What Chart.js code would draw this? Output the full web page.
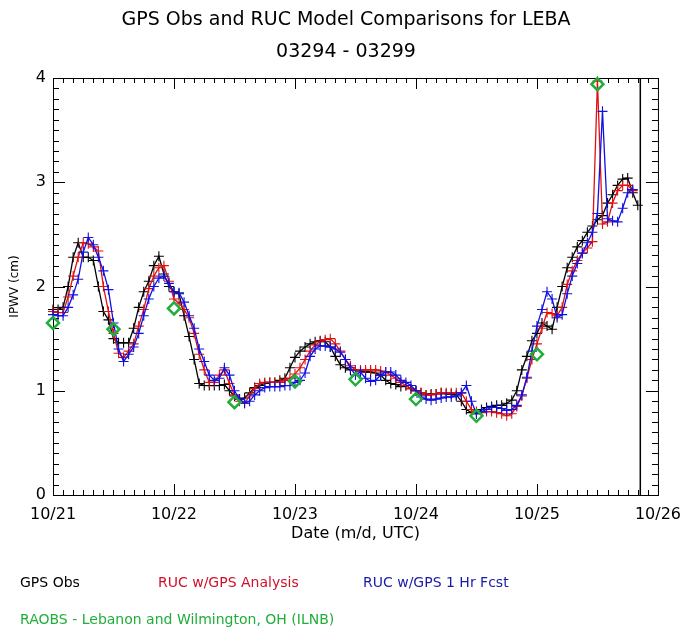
<!DOCTYPE html>
<html>
<head>
<meta charset="utf-8">
<script src="https://cdn.jsdelivr.net/npm/chart.js@4/dist/chart.umd.min.js"></script>
<style>
	html, body { margin: 0; padding: 0; background: #fff; }
	#pwv { display: block; }
</style>
</head>
<body>
<canvas id="pwv" width="691" height="628"></canvas>
<script>
// hours since 10/21 00 UTC, one value per hour
const gpsObs = [
	1.78,1.78,1.80,2.00,2.28,2.42,2.28,2.28,2.25,2.00,1.76,1.68,1.50,1.46,1.46,1.46,1.60,1.80,1.95,2.05,2.20,2.29,2.12,2.00,
	1.95,1.93,1.72,1.52,1.30,1.07,1.05,1.05,1.05,1.05,1.06,1.00,0.95,0.92,0.93,0.98,1.03,1.05,1.07,1.08,1.08,1.10,1.12,1.22,
	1.32,1.38,1.42,1.45,1.47,1.48,1.47,1.42,1.33,1.25,1.22,1.20,1.20,1.19,1.18,1.18,1.17,1.15,1.10,1.07,1.06,1.04,1.05,1.02,
	1.00,0.98,0.96,0.97,0.97,0.98,0.97,0.97,0.96,0.90,0.82,0.79,0.78,0.82,0.84,0.85,0.86,0.86,0.88,0.91,1.00,1.20,1.33,1.48,
	1.55,1.65,1.62,1.59,1.80,2.00,2.18,2.28,2.38,2.44,2.52,2.58,2.64,2.68,2.80,2.88,2.97,3.03,3.04,2.90,2.78
];
const rucAnalysis = [
	1.76,1.75,1.75,1.90,2.10,2.28,2.42,2.41,2.38,2.34,2.00,1.76,1.55,1.36,1.32,1.38,1.45,1.62,1.78,1.98,2.10,2.18,2.20,2.05,
	1.88,1.84,1.78,1.70,1.55,1.35,1.20,1.08,1.08,1.15,1.20,1.07,0.96,0.90,0.88,0.95,1.02,1.07,1.08,1.08,1.08,1.08,1.10,1.12,
	1.16,1.22,1.30,1.38,1.44,1.47,1.49,1.50,1.45,1.38,1.30,1.24,1.20,1.20,1.20,1.20,1.20,1.19,1.18,1.15,1.12,1.08,1.05,1.02,
	1.00,0.98,0.96,0.96,0.97,0.98,0.98,0.98,0.98,0.98,0.90,0.82,0.80,0.79,0.80,0.80,0.79,0.78,0.76,0.78,0.85,0.95,1.12,1.30,
	1.45,1.60,1.75,1.74,1.72,1.80,2.02,2.15,2.25,2.32,2.37,2.43,3.97,2.60,2.62,2.80,2.92,2.97,2.97,2.92
];
const rucFcst = [
	1.73,1.72,1.72,1.80,1.92,2.07,2.33,2.47,2.40,2.28,2.15,1.97,1.65,1.40,1.28,1.35,1.42,1.55,1.72,1.88,2.00,2.08,2.10,2.03,
	1.95,1.94,1.85,1.72,1.60,1.40,1.28,1.15,1.10,1.12,1.22,1.15,1.00,0.92,0.88,0.90,0.96,1.00,1.03,1.04,1.04,1.04,1.05,1.05,
	1.08,1.10,1.17,1.33,1.40,1.43,1.43,1.42,1.40,1.37,1.30,1.22,1.15,1.18,1.12,1.09,1.10,1.15,1.18,1.18,1.15,1.10,1.08,1.05,
	1.00,0.94,0.92,0.91,0.92,0.93,0.94,0.94,0.95,0.98,1.05,0.90,0.78,0.80,0.82,0.84,0.84,0.83,0.81,0.82,0.86,0.96,1.13,1.38,
	1.62,1.78,1.95,1.88,1.70,1.73,1.93,2.10,2.22,2.32,2.42,2.52,2.70,3.68,2.65,2.63,2.62,2.75,2.90,2.93
];
const raobHours = [0, 12, 24, 36, 48, 60, 72, 84, 96, 108];
const raobValues = [1.65, 1.59, 1.79, 0.89, 1.09, 1.11, 0.92, 0.76, 1.35, 3.94];

const dayLabels = ["10/21", "10/22", "10/23", "10/24", "10/25", "10/26"];
const yTicks = [0, 1, 2, 3, 4];
const lastObsHour = 116.5;

const hourly = arr => arr.map((v, h) => ({x: h, y: v}));

const FONT = "'DejaVu Sans', sans-serif";

// box frame with inward ticks on all four sides, plus the end-of-data marker
const framePlugin = {
	id: 'frame',
	beforeDatasetsDraw(chart) {
		const {ctx, chartArea: a, scales: {x, y}} = chart;
		ctx.save();
		ctx.strokeStyle = '#000';
		ctx.lineWidth = 1;
		ctx.strokeRect(a.left + 0.5, a.top + 0.5, a.right - a.left, a.bottom - a.top);
		ctx.beginPath();
		for (let h = 0; h <= 120; h += 2) {
			const px = Math.round(x.getPixelForValue(h)) + 0.5;
			const len = h % 24 == 0 ? 11 : 5;
			ctx.moveTo(px, a.bottom); ctx.lineTo(px, a.bottom - len);
			ctx.moveTo(px, a.top); ctx.lineTo(px, a.top + len);
		}
		for (let i = 0; i <= 40; i++) {
			const py = Math.round(y.getPixelForValue(i / 10)) + 0.5;
			const len = i % 10 == 0 ? 12 : 6;
			ctx.moveTo(a.left, py); ctx.lineTo(a.left + len, py);
			ctx.moveTo(a.right, py); ctx.lineTo(a.right - len, py);
		}
		ctx.stroke();
		ctx.lineWidth = 1.5;
		ctx.beginPath();
		const lx = x.getPixelForValue(lastObsHour);
		ctx.moveTo(lx, a.top); ctx.lineTo(lx, a.bottom);
		ctx.stroke();
		ctx.restore();
	}
};

// titles and the colour-coded key under the plot
const textPlugin = {
	id: 'texts',
	afterDraw(chart) {
		const {ctx} = chart;
		ctx.save();
		ctx.textBaseline = 'middle';
		ctx.textAlign = 'center';
		ctx.fillStyle = '#000';
		ctx.font = '19px ' + FONT;
		ctx.fillText('GPS Obs and RUC Model Comparisons for LEBA', 346, 20);
		ctx.fillText('03294 - 03299', 346, 52);
		ctx.textAlign = 'left';
		ctx.font = '14px ' + FONT;
		ctx.fillStyle = '#000';
		ctx.fillText('GPS Obs', 20, 583);
		ctx.fillStyle = '#d0102a';
		ctx.fillText('RUC w/GPS Analysis', 158, 583);
		ctx.fillStyle = '#1a1aa8';
		ctx.fillText('RUC w/GPS 1 Hr Fcst', 363, 583);
		ctx.fillStyle = '#1fae3a';
		ctx.fillText('RAOBS - Lebanon and Wilmington, OH (ILNB)', 20, 620);
		ctx.restore();
	}
};

const lineSet = (label, data, color) => ({
	label: label,
	data: hourly(data),
	borderColor: color,
	backgroundColor: color,
	borderWidth: 1.3,
	pointStyle: 'cross',
	pointRadius: 5,
	pointBorderWidth: 1.1,
	pointBorderColor: color,
	tension: 0,
	clip: false
});

new Chart(document.getElementById('pwv'), {
	type: 'line',
	data: {
		datasets: [
			{
				label: 'RAOBS',
				data: raobHours.map((h, i) => ({x: h, y: raobValues[i]})),
				showLine: false,
				pointStyle: 'rectRot',
				pointRadius: 6,
				pointBorderWidth: 2.5,
				pointBorderColor: '#1fae3a',
				pointBackgroundColor: 'rgba(0,0,0,0)',
				clip: false
			},
			lineSet('RUC w/GPS 1 Hr Fcst', rucFcst, '#1010e0'),
			lineSet('RUC w/GPS Analysis', rucAnalysis, '#e01010'),
			lineSet('GPS Obs', gpsObs, '#000000')
		]
	},
	options: {
		responsive: false,
		animation: false,
		events: [],
		layout: {padding: {top: 78, right: 28, bottom: 82, left: 0}},
		plugins: {legend: {display: false}, tooltip: {enabled: false}},
		scales: {
			x: {
				type: 'linear',
				min: 0,
				max: 120,
				afterFit: scale => { scale.height = 51; },
				afterBuildTicks: scale => { scale.ticks = dayLabels.map((d, i) => ({value: i * 24})); },
				grid: {display: false, drawTicks: false},
				border: {display: false},
				ticks: {
					padding: 10,
					color: '#000',
					font: {family: FONT, size: 16},
					maxRotation: 0,
					callback: v => dayLabels[v / 24]
				},
				title: {display: true, text: 'Date (m/d, UTC)', color: '#000', font: {family: FONT, size: 16}, padding: {top: 0, bottom: 3}}
			},
			y: {
				min: 0,
				max: 4,
				afterFit: scale => { scale.width = 53; },
				afterBuildTicks: scale => { scale.ticks = yTicks.map(v => ({value: v})); },
				grid: {display: false, drawTicks: false},
				border: {display: false},
				ticks: {padding: 7, color: '#000', font: {family: FONT, size: 16}},
				title: {display: true, text: 'IPWV (cm)', color: '#000', font: {family: FONT, size: 12}, padding: {top: 8, bottom: 0}}
			}
		}
	},
	plugins: [framePlugin, textPlugin]
});
</script>
</body>
</html>
